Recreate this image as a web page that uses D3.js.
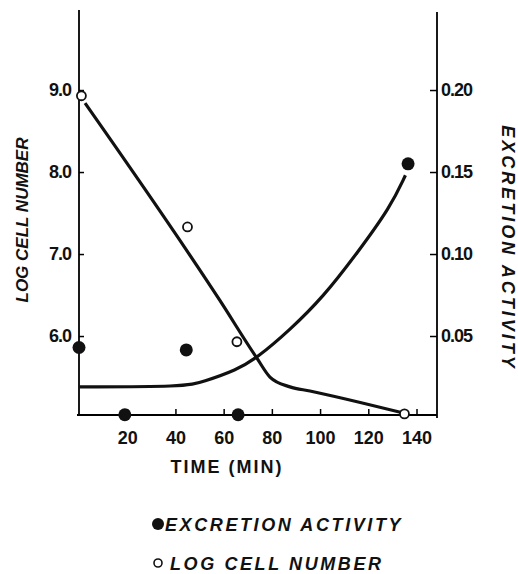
<!DOCTYPE html>
<html>
<head>
<meta charset="utf-8">
<script src="https://cdnjs.cloudflare.com/ajax/libs/d3/7.8.5/d3.min.js"></script>
<style>
  body { margin: 0; background: #fff; }
  text { font-family: "Liberation Sans", Arial, sans-serif; font-weight: bold; fill: #111; }
</style>
</head>
<body>
<script>
// Data
var cellTimes = [1, 45, 65.5, 135];
var cellValues = [8.93, 7.33, 5.93, 5.05];

var excTimes = [0, 19, 44.5, 66, 136.5];
var excValues = [0.043, 0.002, 0.0415, 0.002, 0.155];

// hand-drawn fitted curves
var cellLineTimes = [2.5, 58.3, 73.8, 79.2, 87.5, 95.8, 133.3];
var cellLineValues = [8.84, 6.44, 5.73, 5.50, 5.38, 5.33, 5.07];

var excLineTimes = [0, 43.8, 51.3, 65.4, 73.8, 87.5, 101.3, 115.4, 129.2, 135.4];
var excLineValues = [0.019, 0.019, 0.022, 0.0293, 0.0366, 0.0537, 0.0738, 0.1006, 0.1287, 0.148];

var timeTicks = [20, 40, 60, 80, 100, 120, 140];
var cellTicks = [6, 7, 8, 9];
var excTicks = [0.05, 0.10, 0.15, 0.20];

// Plot box (window.top is reserved, so use a margin object)
var width = 518, height = 574;
var plot = {left: 79, right: 437, top: 10, bottom: 415};

var svg = d3.select("body").append("svg")
    .attr("width", width)
    .attr("height", height);

var x = d3.scaleLinear().domain([0, 148.5]).range([plot.left, plot.right]);
var yCell = d3.scaleLinear().domain([5.037, 9.976]).range([plot.bottom, plot.top]);
var yExc = d3.scaleLinear().domain([0.00183, 0.2488]).range([plot.bottom, plot.top]);

// Axes
svg.append("g")
    .attr("transform", "translate(0," + plot.bottom + ")")
    .call(d3.axisBottom(x).tickValues(timeTicks).tickSize(-6).tickPadding(16)
      .tickFormat(d3.format("d")))
    .call(function(g) {
      g.select(".domain").attr("d", "M" + (plot.left - 2) + ",0H" + plot.right).attr("stroke-width", 1.8);
      g.selectAll("line").attr("stroke-width", 1.5);
      g.selectAll("text").attr("font-size", 18).attr("font-family", "Liberation Sans, Arial, sans-serif");
    });

svg.append("g")
    .attr("transform", "translate(" + plot.left + ",0)")
    .call(d3.axisLeft(yCell).tickValues(cellTicks).tickSize(-5).tickPadding(8)
      .tickFormat(d3.format(".1f")))
    .call(function(g) {
      g.select(".domain").attr("d", "M0," + plot.top + "V" + plot.bottom).attr("stroke-width", 1.8);
      g.selectAll("line").attr("stroke-width", 1.5);
      g.selectAll("text").attr("font-size", 18).attr("font-family", "Liberation Sans, Arial, sans-serif")
        .attr("letter-spacing", -1);
    });

svg.append("g")
    .attr("transform", "translate(" + plot.right + ",0)")
    .call(d3.axisRight(yExc).tickValues(excTicks).tickSize(-7).tickPadding(4)
      .tickFormat(d3.format(".2f")))
    .call(function(g) {
      g.select(".domain").attr("d", "M0," + (plot.top + 2) + "V" + (plot.bottom + 3)).attr("stroke-width", 1.8);
      g.selectAll("line").attr("stroke-width", 1.5);
      g.selectAll("text").attr("font-size", 18).attr("font-family", "Liberation Sans, Arial, sans-serif")
        .attr("letter-spacing", -1);
    });

// Curves
var cellLine = d3.line()
    .x(function(d, i) { return x(cellLineTimes[i]); })
    .y(function(d) { return yCell(d); })
    .curve(d3.curveMonotoneX);

var excLine = d3.line()
    .x(function(d, i) { return x(excLineTimes[i]); })
    .y(function(d) { return yExc(d); })
    .curve(d3.curveBasis);

svg.append("path")
    .attr("d", cellLine(cellLineValues))
    .attr("fill", "none").attr("stroke", "#111").attr("stroke-width", 3.2);

svg.append("path")
    .attr("d", excLine(excLineValues))
    .attr("fill", "none").attr("stroke", "#111").attr("stroke-width", 3.2);

// Points
svg.selectAll("circle.cell")
    .data(cellValues)
  .enter().append("circle")
    .attr("class", "cell")
    .attr("cx", function(d, i) { return x(cellTimes[i]); })
    .attr("cy", function(d) { return yCell(d); })
    .attr("r", 4.5)
    .attr("fill", "#fff").attr("stroke", "#111").attr("stroke-width", 1.8);

svg.selectAll("circle.exc")
    .data(excValues)
  .enter().append("circle")
    .attr("class", "exc")
    .attr("cx", function(d, i) { return x(excTimes[i]); })
    .attr("cy", function(d) { return yExc(d); })
    .attr("r", 6.5)
    .attr("fill", "#111");

// Axis titles
svg.append("text")
    .attr("transform", "translate(28,220) rotate(-90)")
    .attr("text-anchor", "middle")
    .attr("font-size", 17).attr("font-style", "italic")
    .text("LOG CELL NUMBER");

svg.append("text")
    .attr("transform", "translate(502,248) rotate(90)")
    .attr("text-anchor", "middle")
    .attr("font-size", 18).attr("font-style", "italic").attr("letter-spacing", 3)
    .text("EXCRETION ACTIVITY");

svg.append("text")
    .attr("x", 227).attr("y", 473)
    .attr("text-anchor", "middle")
    .attr("font-size", 18).attr("letter-spacing", 2)
    .text("TIME (MIN)");

// Legend
svg.append("circle").attr("cx", 158).attr("cy", 524).attr("r", 6).attr("fill", "#111");
svg.append("text")
    .attr("x", 165).attr("y", 531)
    .attr("font-size", 18).attr("font-style", "italic").attr("letter-spacing", 2.6)
    .text("EXCRETION ACTIVITY");

svg.append("circle").attr("cx", 158).attr("cy", 563).attr("r", 4)
    .attr("fill", "#fff").attr("stroke", "#111").attr("stroke-width", 1.6);
svg.append("text")
    .attr("x", 170).attr("y", 570)
    .attr("font-size", 18).attr("font-style", "italic").attr("letter-spacing", 2.6)
    .text("LOG CELL NUMBER");
</script>
</body>
</html>
